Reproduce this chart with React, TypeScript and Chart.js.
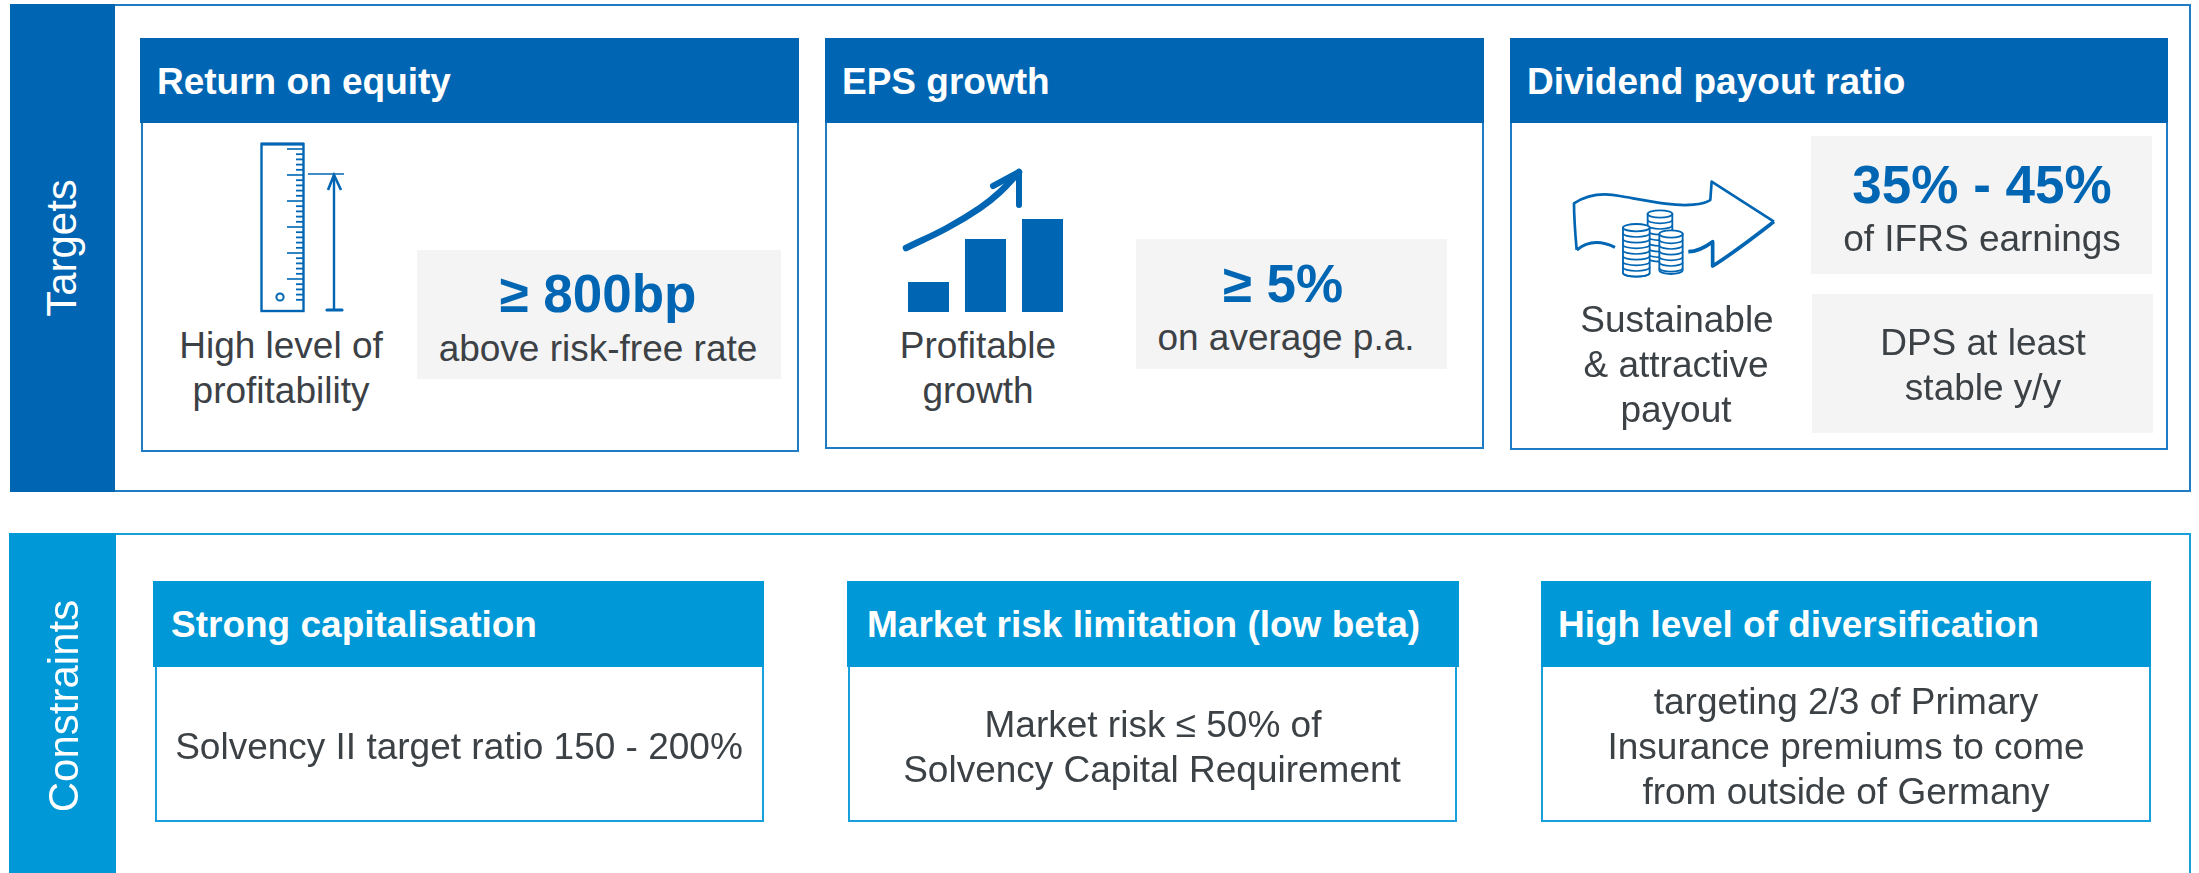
import React, { useEffect, useRef } from "react";
import { Chart, registerables } from "chart.js";

Chart.register(...registerables);

// ---- data ----
const epsCategories = ["Year 1", "Year 2", "Year 3"];
const epsBars = [30, 73, 93];
const epsTrendX = [6, 47, 80, 100, 119];
const epsTrendY = [64, 84, 104, 120, 140];
const epsHeadX = [93, 119, 119];
const epsHeadY = [126, 140, 107];

const sectionLabels = ["Targets", "Constraints"];
const targetTitles = ["Return on equity", "EPS growth", "Dividend payout ratio"];
const constraintTitles = ["Strong capitalisation", "Market risk limitation (low beta)", "High level of diversification"];
const roeCaption = ["High level of", "profitability"];
const epsCaption = ["Profitable", "growth"];
const payoutCaption = ["Sustainable", "& attractive", "payout"];
const roeTarget = ["≥ 800bp", "above risk-free rate"];
const epsTarget = ["≥ 5%", "on average p.a."];
const payoutTarget = ["35% - 45%", "of IFRS earnings"];
const dpsTarget = ["DPS at least", "stable y/y"];
const solvencyText = ["Solvency II target ratio 150 - 200%"];
const marketText = ["Market risk ≤ 50% of", "Solvency Capital Requirement"];
const diversificationText = ["targeting 2/3 of Primary", "Insurance premiums to come", "from outside of Germany"];

// ---- styles ----
const DARK = "#0066b3";
const LIGHT = "#0098d6";
const INK = "#3c4146";
const GREY = "#f4f4f4";
const FONT = '"Liberation Sans", Arial, sans-serif';

function Box(p: { x: number; y: number; x2: number; y2: number; fill?: string; border?: string }) {
  const s: React.CSSProperties = {
    position: "absolute",
    left: p.x,
    top: p.y,
    width: p.x2 - p.x,
    height: p.y2 - p.y,
    boxSizing: "border-box",
    background: p.fill || "transparent",
  };
  if (p.border) s.border = `2px solid ${p.border}`;
  return <div style={s} />;
}

function T(p: { x: number; y: number; size: number; bold?: boolean; color?: string; center?: boolean; children: string }) {
  const baseline = p.bold ? p.y : p.y + 2;
  return (
    <div
      style={{
        position: "absolute",
        left: p.x,
        top: baseline - 0.3465 * p.size,
        lineHeight: 0,
        whiteSpace: "nowrap",
        fontFamily: FONT,
        fontSize: p.size,
        fontWeight: p.bold ? 700 : 400,
        color: p.color || INK,
        transform: p.center ? "translateX(-50%)" : undefined,
      }}
    >
      {p.children}
    </div>
  );
}

function Rot(p: { x: number; cy: number; size: number; children: string }) {
  return (
    <div
      style={{
        position: "absolute",
        left: p.x - 0.3465 * p.size,
        top: p.cy,
        lineHeight: 0,
        whiteSpace: "nowrap",
        fontFamily: FONT,
        fontSize: p.size,
        color: "#fff",
        transformOrigin: "0 0",
        transform: "rotate(-90deg) translateX(-50%)",
      }}
    >
      {p.children}
    </div>
  );
}

function Ruler() {
  const ticks: React.ReactNode[] = [];
  const top = 149;
  const step = 5.2;
  for (let i = 0; i < 30; i++) {
    const long = i % 5 === 0;
    const y = top + i * step;
    ticks.push(<line key={i} x1={long ? 287 : 296} x2={304} y1={y} y2={y} stroke={DARK} strokeWidth={long ? 1.6 : 1.8} />);
  }
  return (
    <svg style={{ position: "absolute", left: 0, top: 0 }} width={2199} height={873}>
      <rect x={261.5} y={144} width={42} height={167} fill="none" stroke={DARK} strokeWidth={2.4} />
      <line x1={261} x2={304} y1={144} y2={144} stroke={DARK} strokeWidth={3} />
      {ticks}
      <circle cx={280} cy={297} r={3.6} fill="none" stroke={DARK} strokeWidth={2} />
      <line x1={308} x2={344} y1={174} y2={174} stroke={DARK} strokeWidth={1.4} />
      <line x1={334} x2={334} y1={175} y2={310} stroke={DARK} strokeWidth={2.4} />
      <path d="M328 190 L334 175 L341 190" fill="none" stroke={DARK} strokeWidth={2.6} />
      <line x1={327} x2={342} y1={310} y2={310} stroke={DARK} strokeWidth={3.2} strokeLinecap="round" />
    </svg>
  );
}

function Stack(p: { cx: number; top: number; bottom: number; rx: number }) {
  const ry = 11;
  const rows: React.ReactNode[] = [];
  for (let y = p.top + 17, i = 0; y <= p.bottom - ry; y += 17, i++) {
    rows.push(
      <path
        key={i}
        d={`M${p.cx - p.rx} ${y} A${p.rx} ${ry} 0 0 0 ${p.cx + p.rx} ${y}`}
        fill="none"
        stroke={DARK}
        strokeWidth={5}
      />
    );
  }
  return (
    <g>
      <path
        d={`M${p.cx - p.rx} ${p.top} L${p.cx - p.rx} ${p.bottom - ry} A${p.rx} ${ry} 0 0 0 ${p.cx + p.rx} ${p.bottom - ry} L${p.cx + p.rx} ${p.top} Z`}
        fill="#fff"
        stroke={DARK}
        strokeWidth={5.5}
      />
      <ellipse cx={p.cx} cy={p.top} rx={p.rx} ry={ry} fill="#fff" stroke={DARK} strokeWidth={5.5} />
      {rows}
    </g>
  );
}

function Payout() {
  return (
    <svg style={{ position: "absolute", left: 0, top: 0 }} width={2199} height={873}>
      <g transform="translate(1560,160) scale(0.3333)">
        <path
          d="M50 270 C46 225 42 175 42 130 C80 105 130 98 180 108 C260 122 340 140 400 134 C425 132 440 128 451 120 L455 65 L642 185"
          fill="none"
          stroke={DARK}
          strokeWidth={8}
          strokeLinejoin="round"
        />
        <path d="M642 185 C590 225 520 280 458 318 L458 245 C435 262 410 275 385 275" fill="none" stroke={DARK} strokeWidth={11} strokeLinejoin="round" />
        <path d="M50 270 C80 245 120 240 165 262" fill="none" stroke={DARK} strokeWidth={9} />
        <Stack cx={300} top={162} bottom={305} rx={37} />
        <Stack cx={229} top={203} bottom={350} rx={40} />
        <Stack cx={333} top={222} bottom={342} rx={35} />
      </g>
    </svg>
  );
}

function EpsChart() {
  const ref = useRef<HTMLCanvasElement>(null);
  useEffect(() => {
    if (!ref.current) return;
    const trend = epsTrendX.map((x, i) => ({ x, y: epsTrendY[i] }));
    const head = epsHeadX.map((x, i) => ({ x, y: epsHeadY[i] }));
    const line = {
      type: "line" as const,
      xAxisID: "x2",
      borderColor: DARK,
      borderCapStyle: "round" as const,
      borderJoinStyle: "round" as const,
      pointRadius: 0,
      fill: false,
      clip: false as const,
    };
    const chart = new Chart(ref.current, {
      type: "bar",
      data: {
        labels: epsCategories,
        datasets: [
          { type: "bar", data: epsBars, backgroundColor: DARK, grouped: false, barPercentage: 0.72, categoryPercentage: 1, xAxisID: "x" } as any,
          { ...line, data: trend, borderWidth: 6.5, tension: 0.4 } as any,
          { ...line, data: head, borderWidth: 6, tension: 0 } as any,
        ],
      },
      options: {
        animation: false,
        responsive: false,
        layout: { padding: 8 },
        plugins: { legend: { display: false }, tooltip: { enabled: false } },
        scales: {
          x: { display: false, offset: true, type: "category" },
          x2: { display: false, type: "linear", offset: false, min: 0, max: 171 },
          y: { display: false, min: 0, max: 145 },
        },
      } as any,
    });
    return () => chart.destroy();
  }, []);
  return <canvas ref={ref} width={187} height={161} style={{ position: "absolute", left: 892, top: 159, width: 187, height: 161 }} />;
}

export default function App() {
  return (
    <div style={{ position: "absolute", left: 0, top: 0, width: 2199, height: 873, overflow: "hidden", background: "#fff" }}>
      {/* Targets panel */}
      <Box x={10} y={4} x2={2191} y2={492} border="#1f7cc4" />
      <Box x={10} y={4} x2={115} y2={492} fill={DARK} />
      <Rot x={77} cy={248} size={42}>{sectionLabels[0]}</Rot>

      <Box x={141} y={100} x2={799} y2={452} border="#1f7cc4" />
      <Box x={140} y={38} x2={799} y2={123} fill={DARK} />
      <T x={157} y={95} size={37} bold color="#fff">{targetTitles[0]}</T>

      <Box x={825} y={100} x2={1484} y2={449} border="#1f7cc4" />
      <Box x={825} y={38} x2={1484} y2={123} fill={DARK} />
      <T x={842} y={95} size={37} bold color="#fff">{targetTitles[1]}</T>

      <Box x={1510} y={100} x2={2168} y2={450} border="#1f7cc4" />
      <Box x={1510} y={38} x2={2168} y2={123} fill={DARK} />
      <T x={1527} y={95} size={37} bold color="#fff">{targetTitles[2]}</T>

      <Ruler />
      <T x={281} y={357} size={37} center>{roeCaption[0]}</T>
      <T x={281} y={402} size={37} center>{roeCaption[1]}</T>
      <Box x={417} y={250} x2={781} y2={379} fill={GREY} />
      <T x={598} y={312} size={53} bold color={DARK} center>{roeTarget[0]}</T>
      <T x={598} y={360} size={37} center>{roeTarget[1]}</T>

      <EpsChart />
      <T x={978} y={357} size={37} center>{epsCaption[0]}</T>
      <T x={978} y={402} size={37} center>{epsCaption[1]}</T>
      <Box x={1136} y={239} x2={1447} y2={369} fill={GREY} />
      <T x={1283} y={302} size={53} bold color={DARK} center>{epsTarget[0]}</T>
      <T x={1286} y={349} size={37} center>{epsTarget[1]}</T>

      <Payout />
      <T x={1677} y={331} size={37} center>{payoutCaption[0]}</T>
      <T x={1676} y={376} size={37} center>{payoutCaption[1]}</T>
      <T x={1676} y={421} size={37} center>{payoutCaption[2]}</T>
      <Box x={1811} y={136} x2={2152} y2={274} fill={GREY} />
      <T x={1982} y={203} size={53} bold color={DARK} center>{payoutTarget[0]}</T>
      <T x={1982} y={250} size={37} center>{payoutTarget[1]}</T>
      <Box x={1812} y={294} x2={2153} y2={433} fill={GREY} />
      <T x={1983} y={354} size={37} center>{dpsTarget[0]}</T>
      <T x={1983} y={399} size={37} center>{dpsTarget[1]}</T>

      {/* Constraints panel */}
      <Box x={9} y={533} x2={2191} y2={880} border="#18a0dc" />
      <Box x={9} y={533} x2={116} y2={880} fill={LIGHT} />
      <Rot x={79} cy={706} size={42}>{sectionLabels[1]}</Rot>

      <Box x={155} y={640} x2={764} y2={822} border="#18a0dc" />
      <Box x={153} y={581} x2={764} y2={667} fill={LIGHT} />
      <T x={171} y={638} size={37} bold color="#fff">{constraintTitles[0]}</T>
      <T x={459} y={758} size={37} center>{solvencyText[0]}</T>

      <Box x={848} y={640} x2={1457} y2={822} border="#18a0dc" />
      <Box x={847} y={581} x2={1459} y2={667} fill={LIGHT} />
      <T x={867} y={638} size={37} bold color="#fff">{constraintTitles[1]}</T>
      <T x={1153} y={736} size={37} center>{marketText[0]}</T>
      <T x={1152} y={781} size={37} center>{marketText[1]}</T>

      <Box x={1541} y={640} x2={2151} y2={822} border="#18a0dc" />
      <Box x={1541} y={581} x2={2151} y2={667} fill={LIGHT} />
      <T x={1558} y={638} size={37} bold color="#fff">{constraintTitles[2]}</T>
      <T x={1846} y={713} size={37} center>{diversificationText[0]}</T>
      <T x={1846} y={758} size={37} center>{diversificationText[1]}</T>
      <T x={1846} y={803} size={37} center>{diversificationText[2]}</T>
    </div>
  );
}
